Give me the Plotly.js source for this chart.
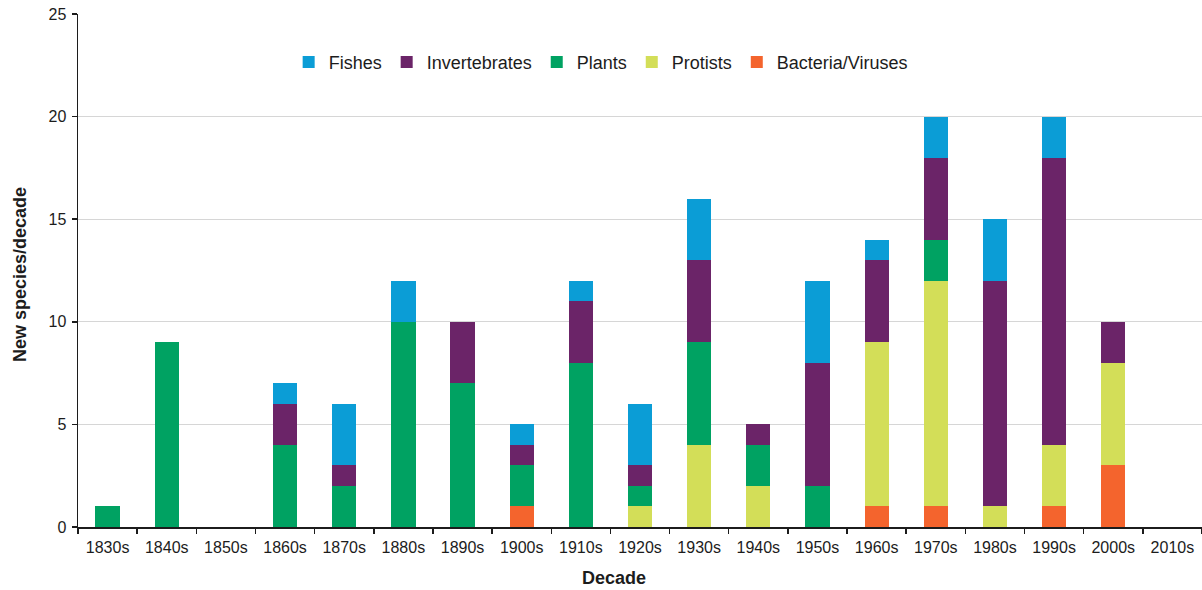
<!DOCTYPE html>
<html><head><meta charset="utf-8">
<script src="https://cdn.plot.ly/plotly-3.0.1.min.js"></script>
<style>html,body{margin:0;padding:0;background:#fff}#c{width:1202px;height:590px}</style>
</head><body><div id="c"></div>
<script>
const decades = ["1830s","1840s","1850s","1860s","1870s","1880s","1890s","1900s","1910s","1920s","1930s","1940s","1950s","1960s","1970s","1980s","1990s","2000s","2010s"];
const bacteria =      [0,0,0,0,0,0,0,1,0,0,0,0,0,1,1,0,1,3,0];
const protists =      [0,0,0,0,0,0,0,0,0,1,4,2,0,8,11,1,3,5,0];
const plants =        [1,9,0,4,2,10,7,2,8,1,5,2,2,0,2,0,0,0,0];
const invertebrates = [0,0,0,2,1,0,3,1,3,1,4,1,6,4,4,11,14,2,0];
const fishes =        [0,0,0,1,3,2,0,1,1,3,3,0,4,1,2,3,2,0,0];
const yTicks = [0,5,10,15,20,25];

const series = [
  {name:"Bacteria/Viruses", y:bacteria, color:"#f4642d"},
  {name:"Protists", y:protists, color:"#d3de58"},
  {name:"Plants", y:plants, color:"#00a262"},
  {name:"Invertebrates", y:invertebrates, color:"#6b2468"},
  {name:"Fishes", y:fishes, color:"#0b9dd6"}
];
const data = series.map(s => ({
  type:"bar", name:s.name, x:decades, y:s.y,
  marker:{color:s.color, line:{width:0}}, hoverinfo:"x+y+name"
}));
const ink = "#1c1c1c";
const layout = {
  width:1202, height:590,
  margin:{l:78, r:0, t:14, b:63},
  barmode:"stack", bargap:0.59,
  paper_bgcolor:"#fff", plot_bgcolor:"#fff",
  font:{family:"Liberation Sans, Arial, sans-serif", size:16, color:ink},
  showlegend:true,
  legend:{orientation:"h", traceorder:"reversed", x:0.465, xanchor:"center", y:0.906, yanchor:"middle",
    font:{size:18, color:ink}, bgcolor:"rgba(0,0,0,0)", itemwidth:30},
  xaxis:{type:"category", tickson:"boundaries", ticks:"outside", ticklen:5, tickwidth:1.5, tickcolor:ink,
    showline:true, linecolor:ink, linewidth:1.5, showgrid:false, zeroline:false,
    tickfont:{size:16, color:ink}, ticklabelstandoff:5},
  yaxis:{range:[0,25], tickvals:yTicks, ticktext:yTicks.map(String), ticks:"outside", ticklen:5, tickwidth:1.5, tickcolor:ink,
    showline:true, linecolor:ink, linewidth:1.5, showgrid:true, gridcolor:"#d6d6d6", gridwidth:1, zeroline:false,
    tickfont:{size:16, color:ink}, ticklabelstandoff:2},
  annotations:[
    {text:"<b>Decade</b>", xref:"paper", yref:"paper", x:(614-78)/1124, y:(527-578)/513, xanchor:"center", yanchor:"middle",
     showarrow:false, font:{size:18, color:ink}},
    {text:"<b>New species/decade</b>", xref:"paper", yref:"paper", x:(20-78)/1124, y:(527-275)/513, xanchor:"center", yanchor:"middle",
     textangle:-90, showarrow:false, font:{size:18, color:ink}}
  ]
};
Plotly.newPlot("c", data, layout, {displayModeBar:false, staticPlot:true});
</script></body></html>
